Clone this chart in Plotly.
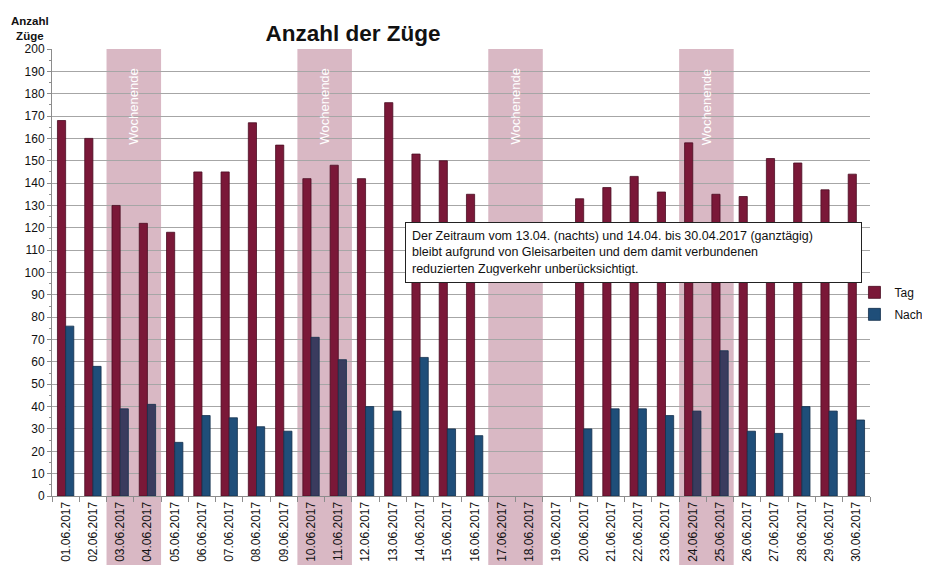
import plotly.graph_objects as go

dates = ["01.06.2017", "02.06.2017", "03.06.2017", "04.06.2017", "05.06.2017",
         "06.06.2017", "07.06.2017", "08.06.2017", "09.06.2017", "10.06.2017",
         "11.06.2017", "12.06.2017", "13.06.2017", "14.06.2017", "15.06.2017",
         "16.06.2017", "17.06.2017", "18.06.2017", "19.06.2017", "20.06.2017",
         "21.06.2017", "22.06.2017", "23.06.2017", "24.06.2017", "25.06.2017",
         "26.06.2017", "27.06.2017", "28.06.2017", "29.06.2017", "30.06.2017"]
tag = [168, 160, 130, 122, 118, 145, 145, 167, 157, 142,
       148, 142, 176, 153, 150, 135, None, None, None, 133,
       138, 143, 136, 158, 135, 134, 151, 149, 137, 144]
nacht = [76, 58, 39, 41, 24, 36, 35, 31, 29, 71,
         61, 40, 38, 62, 30, 27, None, None, None, 30,
         39, 39, 36, 38, 65, 29, 28, 40, 38, 34]
weekends = [("03.06.2017", "04.06.2017"), ("10.06.2017", "11.06.2017"),
            ("17.06.2017", "18.06.2017"), ("24.06.2017", "25.06.2017")]
note = ("Der Zeitraum vom 13.04. (nachts) und 14.04. bis 30.04.2017 (ganztägig)<br>"
        "bleibt aufgrund von Gleisarbeiten und dem damit verbundenen<br>"
        "reduzierten Zugverkehr unberücksichtigt.")

weekend_days = {d for pair in weekends for d in pair}
tag_colors = ["#7a1838" for d in dates]
nacht_colors = ["#3a3b5e" if d in weekend_days else "#1f4e79" for d in dates]

FONT = "Liberation Sans, Arial, sans-serif"
W, H = 922, 557  # page adds an 8px body margin

fig = go.Figure()
fig.add_trace(go.Bar(x=dates, y=tag, name="Tag", legendgroup="t",
                     marker=dict(color=tag_colors, line=dict(color="#4a0d22", width=0.8))))
fig.add_trace(go.Bar(x=dates, y=nacht, name="Nacht", legendgroup="n",
                     marker=dict(color=nacht_colors, line=dict(color="#14304c", width=0.8))))

idx = {d: i for i, d in enumerate(dates)}
for a, b in weekends:
    fig.add_shape(type="rect", xref="x", yref="paper",
                  x0=idx[a] - 0.5, x1=idx[b] + 0.5, y0=-0.2, y1=1.0,
                  fillcolor="#d9b8c4", line_width=0, layer="below")
    fig.add_annotation(xref="x", yref="paper", x=(idx[a] + idx[b]) / 2, y=0.96,
                       text="Wochenende", textangle=-90, showarrow=False,
                       yanchor="top", xanchor="center",
                       font=dict(family=FONT, size=13, color="white"))

fig.add_annotation(xref="paper", yref="paper", x=0.4315, y=0.613,
                   xanchor="left", yanchor="top", text=note, align="left",
                   showarrow=False, bgcolor="white", bordercolor="#222222",
                   borderwidth=1, borderpad=6, width=443,
                   font=dict(family=FONT, size=12.5, color="#111111"))

fig.add_annotation(xref="paper", yref="paper", x=-0.027, y=1.012,
                   text="<b>Anzahl<br>Züge</b>", showarrow=False,
                   xanchor="center", yanchor="bottom",
                   font=dict(family=FONT, size=11.5, color="#111111"))

fig.update_layout(
    width=W, height=H,
    margin=dict(l=44, r=60, t=41, b=69, autoexpand=False),
    paper_bgcolor="white", plot_bgcolor="white",
    font=dict(family=FONT, size=12, color="#111111"),
    title=dict(text="<b>Anzahl der Züge</b>", x=345 / W, xanchor="center",
               xref="container", yref="container",
               y=1 - 25 / H, yanchor="middle",
               font=dict(family=FONT, size=22.5, color="#111111")),
    barmode="group", bargap=0.4, bargroupgap=0.0,
    showlegend=True,
    legend=dict(x=0.981, y=0.488, xanchor="left", yanchor="top",
                font=dict(family=FONT, size=12, color="#111111"),
                bgcolor="rgba(0,0,0,0)", itemwidth=30, tracegroupgap=3,
                traceorder="grouped"),
    xaxis=dict(type="category", tickangle=-90, showgrid=False,
               showline=True, linecolor="#8c8c8c", linewidth=1,
               ticks="outside", tickson="boundaries", ticklen=5, tickcolor="#8c8c8c",
               tickfont=dict(family=FONT, size=12, color="#111111"),
               range=[-0.5, len(dates) - 0.5]),
    yaxis=dict(range=[0, 200], dtick=10, showgrid=True, gridcolor="#a6a6a6",
               gridwidth=1, showline=True, linecolor="#8c8c8c", linewidth=1,
               ticks="outside", ticklen=4, tickcolor="#8c8c8c",
               minor=dict(dtick=5, ticks="outside", ticklen=2, tickcolor="#8c8c8c",
                          showgrid=False),
               tickfont=dict(family=FONT, size=12, color="#111111"),
               zeroline=False),
)

fig.write_html("out.html")
